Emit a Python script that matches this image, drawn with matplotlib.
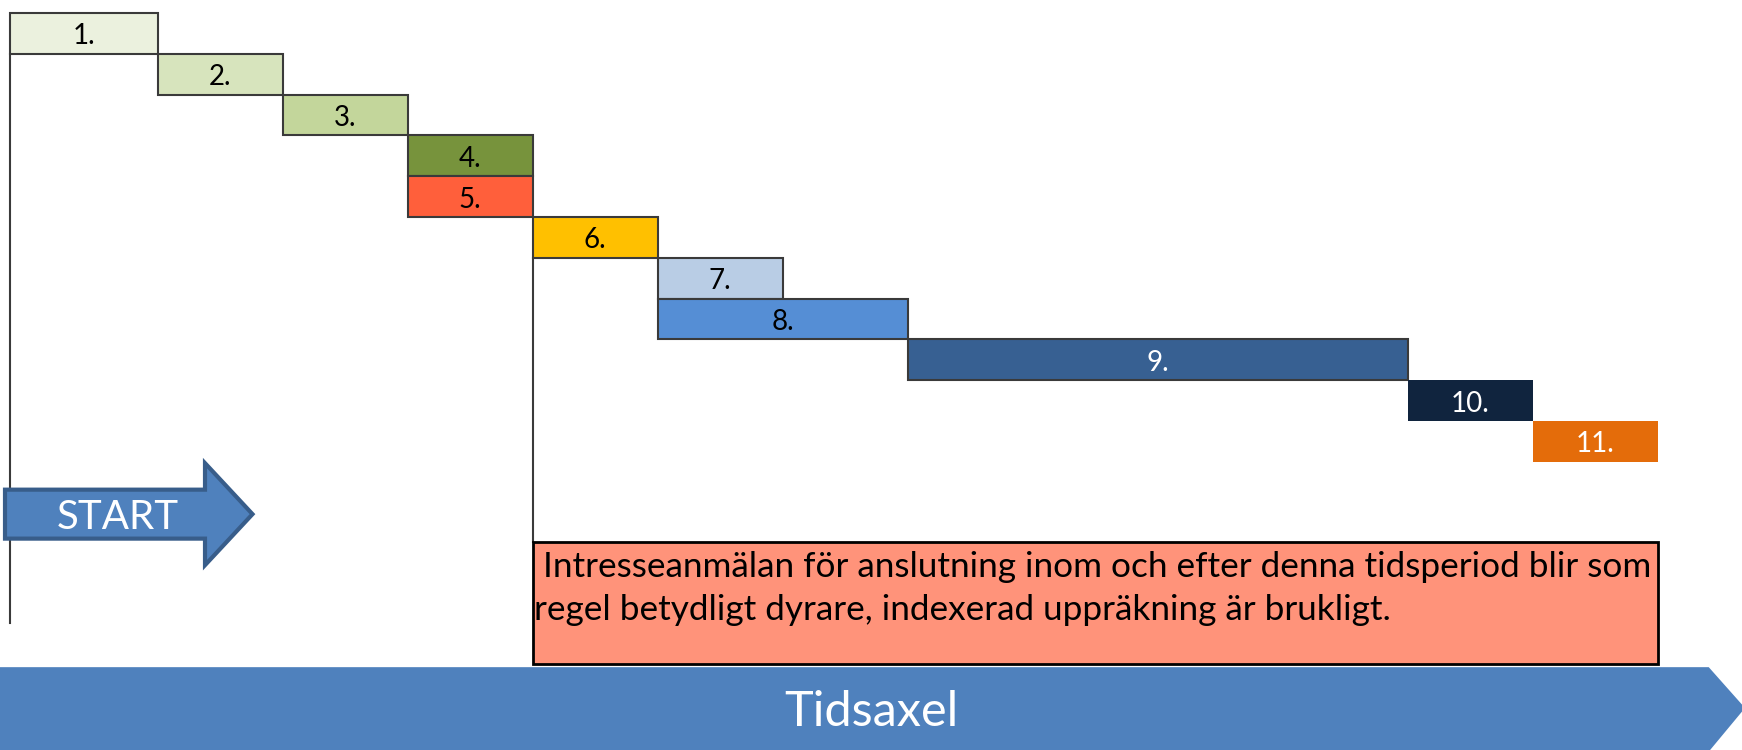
import numpy as np
import matplotlib
matplotlib.use("Agg")
import matplotlib.pyplot as plt
from matplotlib.patches import FancyArrow, Polygon, Rectangle

plt.rcParams['font.family'] = ['Lato', 'DejaVu Sans']

# Steps of the time line (time unit ~ one step, row = one step)
labels = ["1.", "2.", "3.", "4.", "5.", "6.", "7.", "8.", "9.", "10.", "11."]
start = [0.0, 1.18, 2.18, 3.18, 3.18, 4.18, 5.18, 5.18, 7.18, 11.18, 12.18]
dur = [1.18, 1, 1, 1, 1, 1, 1, 2, 4, 1, 1]
rows = np.arange(len(labels))
colors = ["#EBF1DE", "#D7E4BD", "#C3D69B", "#77933C", "#FF5F3B", "#FFC000",
          "#B9CDE5", "#558ED5", "#376092", "#10243E", "#E46C0A"]
text_colors = ["black"] * 8 + ["white"] * 3
edged = [True] * 9 + [False] * 2

note = (" Intresseanmälan för anslutning inom och efter denna tidsperiod blir som\n"
        "regel betydligt dyrare, indexerad uppräkning är brukligt.")

fig = plt.figure(figsize=(17.42, 7.5), dpi=100)
ax = fig.add_axes([0, 0, 1, 1])
ax.set_xlim(-0.08, 13.856)
ax.set_ylim(18.06, -0.32)
ax.axis("off")

for i in range(len(labels)):
    ax.barh(rows[i], dur[i], left=start[i], height=1, align="edge",
            color=colors[i], edgecolor="#3a3a3a" if edged[i] else "none",
            linewidth=1.5 if edged[i] else 0, zorder=3)
    ax.text(start[i] + dur[i] / 2, rows[i] + 0.57, labels[i], ha="center",
            va="center", fontsize=20, color=text_colors[i], zorder=4)

# vertical guide lines
ax.plot([start[0], start[0]], [1, 14.95], color="#3a3a3a", lw=1.5, zorder=2)
ax.plot([start[5], start[5]], [6, 12.97], color="#3a3a3a", lw=1.5, zorder=2)

# START arrow
ax.add_patch(FancyArrow(-0.04, 12.28, 1.98, 0, width=1.2, head_width=2.5,
                        head_length=0.38, length_includes_head=True,
                        facecolor="#4F81BD", edgecolor="#385D8A", lw=3, zorder=3))
ax.text(0.86, 12.35, "START", ha="center", va="center", fontsize=29,
        color="white", zorder=4)

# note box
ax.add_patch(Rectangle((start[5], 12.97), start[10] + dur[10] - start[5], 2.99,
                       facecolor="#FF937A", edgecolor="black", lw=2, zorder=3))
ax.text(start[5] + 0.01, 14.1, note, ha="left", va="center", fontsize=25.3,
        linespacing=1.42, color="black", zorder=4)

# time axis arrow
ax.add_patch(Polygon([(-0.2, 16.03), (13.59, 16.03), (13.88, 17.03),
                      (13.59, 18.1), (-0.2, 18.1)], closed=True,
                     facecolor="#4F81BD", edgecolor="none", zorder=3))
ax.text(6.89, 17.13, "Tidsaxel", ha="center", va="center", fontsize=35,
        color="white", zorder=4)

fig.savefig("out.png", dpi=100)
